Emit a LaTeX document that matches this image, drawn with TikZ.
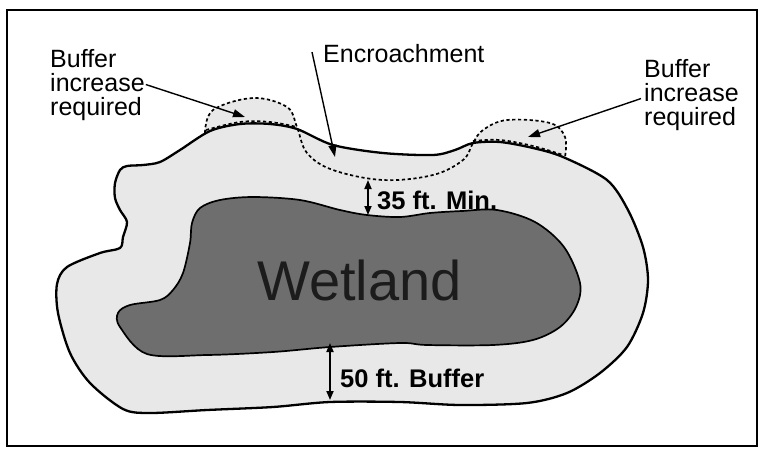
\documentclass[tikz,border=0pt]{standalone}
\usepackage{fontspec}
\setmainfont{Liberation Sans}
\usetikzlibrary{arrows.meta}
\definecolor{bufgray}{HTML}{E8E8E8}
\definecolor{wetgray}{HTML}{6E6E6E}
\definecolor{inkdark}{HTML}{1C1C1C}
\begin{document}
\begin{tikzpicture}[x=1pt,y=-1pt,
  outline/.style={line width=2.3pt, line join=round},
  wetline/.style={line width=1.7pt, line join=round},
  propline/.style={line width=1.7pt, dash pattern=on 3.2pt off 2.6pt},
  callout/.style={line width=1.4pt, -{Triangle[length=12pt,width=8pt]}},
  dimarrow/.style={line width=1.7pt, {Triangle[length=9pt,width=7pt]}-{Triangle[length=9pt,width=7pt]}},
  lbl/.style={inner sep=0pt, align=left, font=\fontsize{25}{24}\selectfont, anchor=base west},
  dimlbl/.style={inner sep=0pt, font=\bfseries\fontsize{25.5}{26}\selectfont, anchor=base west}]

\useasboundingbox (0,0) rectangle (764,459);
\fill[white] (0,0) rectangle (764,459);
\draw[line width=1.8pt] (7,10) rectangle (757,446);

% bumps (proposed buffer increases)
\fill[bufgray] plot[smooth, tension=0.7] coordinates {(205,133) (213,110) (253,98) (287,107) (297,128)} -- cycle;
\fill[bufgray] plot[smooth, tension=0.7] coordinates {(473,143) (483,130) (507,120) (550,123) (565,137) (565,157)} -- cycle;

% buffer
\filldraw[fill=bufgray, outline] plot[smooth cycle, tension=0.5] coordinates {
 (120,170) (127,166) (143,165) (160,162) (180,150) (210,131) (240,124) (270,124) (297,129)
 (333,145) (383,153) (433,155) (455,150) (473,143) (500,142) (533,148) (563,157)
 (607,180) (628,210) (643,247) (648,280) (643,313) (627,347) (600,373) (567,393)
 (527,403) (460,405) (400,402) (330,402) (273,407) (207,410) (150,413) (123,409)
 (90,383) (70,353) (58,313) (57,284) (67,267) (100,253) (120,248) (123,237) (127,222)
 (120,210) (115,198) (115,183)};

% wetland
\filldraw[fill=wetgray, wetline] plot[smooth cycle, tension=0.55] coordinates {
 (200,208) (220,200) (253,197) (300,200) (340,210) (367,215) (400,217) (430,213)
 (462,211) (497,210) (535,222) (564,247) (580,283) (576,307) (560,327)
 (533,340) (493,345) (427,345) (400,343) (330,347) (273,352) (207,355) (147,354)
 (120,327) (118,313) (130,305) (160,300) (173,290) (183,273) (190,243)
 (192,223)};

% proposed (dashed) buffer line
\draw[propline] plot[smooth, tension=0.6] coordinates {
 (205,133) (213,110) (253,98) (287,107) (297,127) (307,153) (333,170) (383,180)
 (433,175) (463,160) (473,143) (483,130) (507,120) (550,123) (565,137) (565,157)};
\draw[propline] plot[smooth, tension=0.6] coordinates {(206,130) (240,122) (270,122) (297,127)};
\draw[propline] plot[smooth, tension=0.6] coordinates {(473,141) (500,140) (533,146) (563,155)};

% texts
\node[inner sep=0pt, anchor=base west, text=inkdark, font=\fontsize{56}{56}\selectfont] (wet) at (257,300) {Wetland};
\node[lbl] (leftlbl) at (50,115) {Buffer\\increase\\required};
\node[lbl] (rightlbl) at (644,125) {Buffer\\increase\\required};
\node[lbl] (enc) at (323,62) {Encroachment};
\node[dimlbl] (d35) at (377,209) {35 ft. Min.};
\node[dimlbl] (d50) at (340,387) {50 ft. Buffer};

% arrow targets
\coordinate (ltip) at (245,117);
\coordinate (etip) at (335,157);
\coordinate (rtip) at (528,137);
\coordinate (a35) at (368,180);
\coordinate (b35) at (368,215);
\coordinate (a50) at (330,343);
\coordinate (b50) at (330,400);

\draw[callout] ([xshift=1pt]leftlbl.east) -- (ltip);
\draw[callout] ([xshift=-11pt,yshift=1pt]enc.west) -- (etip);
\draw[callout] ([xshift=-3pt,yshift=-4pt]rightlbl.west) -- (rtip);
\draw[dimarrow] (a35) -- (b35);
\draw[dimarrow] (a50) -- (b50);
\end{tikzpicture}
\end{document}
